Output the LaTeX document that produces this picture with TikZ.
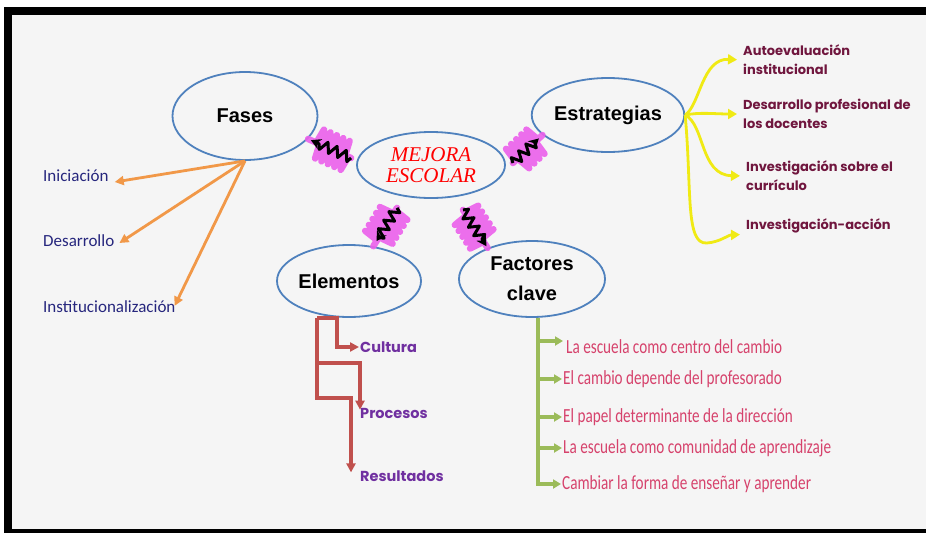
\documentclass[tikz,border=0pt]{standalone}
\usepackage{fontspec}
\setmainfont{Liberation Sans}
\newfontfamily\calibri{Carlito}
\newfontfamily\narrowfont[FakeStretch=0.76]{Carlito}
\newfontfamily\geofont{Poppins}
\newfontfamily\handfont{Liberation Serif}
\usetikzlibrary{shapes.geometric,arrows.meta,decorations.pathmorphing}
\definecolor{panelgray}{RGB}{245,245,245}
\definecolor{bubbleblue}{RGB}{79,129,189}
\definecolor{fasenavy}{RGB}{38,38,125}
\definecolor{estrmaroon}{RGB}{112,22,62}
\definecolor{elempurple}{RGB}{112,48,160}
\definecolor{factorpink}{RGB}{214,66,108}
\definecolor{arroworange}{RGB}{241,152,72}
\definecolor{arrowyellow}{RGB}{240,234,20}
\definecolor{arrowred}{RGB}{192,80,77}
\definecolor{arrowgreen}{RGB}{155,187,89}
\definecolor{glowpink}{RGB}{236,96,236}
\tikzset{
    bubble/.style={draw=bubbleblue,line width=1.8pt,ellipse,inner sep=0pt,align=center,font=\fontsize{20}{26}\selectfont\bfseries},
    fase/.style={anchor=west,inner sep=1pt,text=fasenavy,font=\calibri\fontsize{17}{20}\selectfont},
    estr/.style={anchor=west,inner sep=1pt,text=estrmaroon,align=left,font=\geofont\bfseries\fontsize{13}{19}\selectfont},
    elem/.style={anchor=west,inner sep=1pt,text=elempurple,font=\geofont\bfseries\fontsize{14.5}{17}\selectfont},
    factor/.style={anchor=west,inner sep=1pt,text=factorpink,font=\narrowfont\fontsize{20}{24}\selectfont},
    orangearrow/.style={draw=arroworange,line width=2.8pt,-{Triangle[length=9pt,width=9pt]}},
    yellowarrow/.style={draw=arrowyellow,line width=2.8pt,shorten >=5pt,-{Triangle[length=9pt,width=10pt]}},
    redarrow/.style={draw=arrowred,line width=3.2pt,-{Triangle[length=9pt,width=9pt]}},
    greenarrow/.style={draw=arrowgreen,line width=3.2pt,-{Triangle[length=8pt,width=9pt]}},
    glow/.style={draw=glowpink,line width=6.5pt,opacity=.9,line join=round,line cap=round,decorate,decoration={zigzag,segment length=7pt,amplitude=15pt,pre length=3pt,post length=6pt}},
    zap/.style={draw=black,line width=3pt,line join=round,decorate,decoration={zigzag,segment length=10pt,amplitude=5pt,post length=9pt},-{Stealth[length=10pt,width=11pt]}}
}
\begin{document}
\begin{tikzpicture}[x=1pt,y=-1pt]
    \useasboundingbox (0,0) rectangle (926,533);
    %% frame
    \fill[white] (0,0) rectangle (926,533);
    \fill[black] (4,7) rectangle (926,533);
    \fill[panelgray] (12,15) rectangle (926,529);
    %% bubbles
    \node[bubble,minimum width=145pt,minimum height=88pt] (fases) at (245,116) {Fases};
    \node[bubble,minimum width=148pt,minimum height=66pt,font=\handfont\itshape\fontsize{21}{21}\selectfont,text=red] (mejora) at (431,165) {MEJORA\\ESCOLAR};
    \node[bubble,minimum width=141pt,minimum height=74pt] (estrategias) at (608,115) {Estrategias};
    \node[bubble,minimum width=144pt,minimum height=72pt] (elementos) at (349,281) {Elementos};
    \node[bubble,minimum width=146pt,minimum height=76pt,font=\fontsize{20}{30}\selectfont\bfseries] (factores) at (532,279) {Factores\\clave};
    %% squiggles
    \draw[glow] ([shift={(-5,-7)}]mejora.west) -- (fases.-20);
    \draw[zap,shorten >=3pt] ([shift={(-5,-7)}]mejora.west) -- (fases.-20);
    \draw[glow] ([shift={(7,-2)}]mejora.east) -- (estrategias.197);
    \draw[zap,shorten >=5pt] ([shift={(7,-2)}]mejora.east) -- (estrategias.197);
    \draw[glow] ([shift={(-34,9)}]mejora.south) -- (elementos.55);
    \draw[zap,shorten >=6pt] ([shift={(-34,9)}]mejora.south) -- (elementos.55);
    \draw[glow] ([shift={(32,11)}]mejora.south) -- (factores.145);
    \draw[zap,shorten >=2pt] ([shift={(32,11)}]mejora.south) -- (factores.145);
    %% fases
    \node[fase] (ini) at (42,176) {Iniciación};
    \node[fase] (des) at (42,241) {Desarrollo};
    \node[fase] (inst) at (42,307) {Institucionalización};
    \draw[orangearrow] (fases.south) -- ([shift={(5,6)}]ini.east);
    \draw[orangearrow] (fases.south) -- ([shift={(4,2)}]des.east);
    \draw[orangearrow] (fases.south) -- ([shift={(-2,6)}]inst.north east);
    %% estrategias
    \node[estr] (autoev) at (742,60) {Autoevaluación\\institucional};
    \node[estr] (desprof) at (742,114) {Desarrollo profesional de\\los docentes};
    \node[estr] (invcurr) at (745,176) {Investigación sobre el\\currículo};
    \node[estr] (invacc) at (745,226) {Investigación-acción};
    \draw[yellowarrow] (estrategias.east) .. controls (700,105) and (702,58) .. (autoev.west);
    \draw[yellowarrow] (estrategias.east) .. controls (700,112) and (715,114) .. (desprof.west);
    \draw[yellowarrow] (estrategias.east) .. controls (705,125) and (700,175) .. (invcurr.west);
    \draw[yellowarrow] (estrategias.east) .. controls (692,190) and (685,245) .. (707,243) .. controls (720,242) and (728,235) .. (invacc.south west);
    %% elementos
    \coordinate (elroot) at ([xshift=-32pt]elementos.south);
    \node[elem] (cultura) at (359,347) {Cultura};
    \node[elem] (procesos) at (359,413) {Procesos};
    \node[elem] (resultados) at (359,476) {Resultados};
    \draw[redarrow] (elroot) -- ++(20,0) |- (cultura.west);
    \draw[redarrow] (elroot) -- ++(0,45) -| ([shift={(1,3)}]procesos.north west);
    \draw[redarrow] (elroot) -- ++(0,80) -| ([shift={(-8,3)}]resultados.north west);
    %% factores clave
    \coordinate (fkroot) at ([xshift=6pt]factores.south);
    \node[factor] (escuela) at (565,347) {La escuela como centro del cambio};
    \node[factor] (cambio) at (562,379) {El cambio depende del profesorado};
    \node[factor] (papel) at (562,417) {El papel determinante de la dirección};
    \node[factor] (comunidad) at (562,448) {La escuela como comunidad de aprendizaje};
    \node[factor] (ensenar) at (561,484) {Cambiar la forma de enseñar y aprender};
    \draw[greenarrow] (fkroot) |- ([shift={(-2,-6)}]escuela.west);
    \draw[greenarrow] (fkroot) |- (cambio.west);
    \draw[greenarrow] (fkroot) |- (papel.west);
    \draw[greenarrow] (fkroot) |- (comunidad.west);
    \draw[greenarrow] (fkroot) |- (ensenar.west);
\end{tikzpicture}
\end{document}
